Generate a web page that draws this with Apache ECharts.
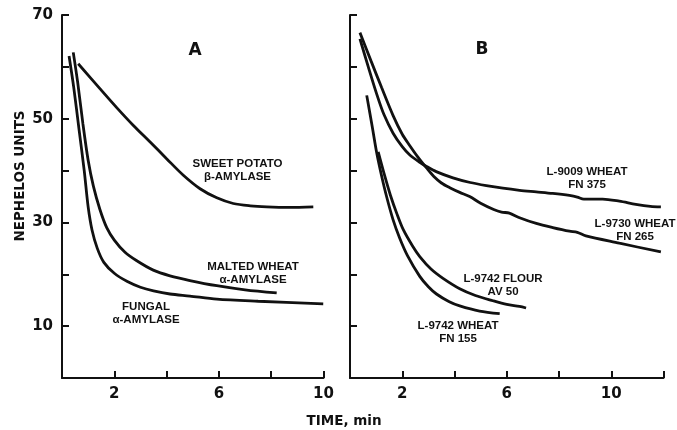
<!DOCTYPE html>
<html>
<head>
<meta charset="utf-8">
<script src="https://cdn.jsdelivr.net/npm/echarts@6/dist/echarts.min.js"></script>
<style>html,body{margin:0;padding:0;background:#fff}#c{width:677px;height:430px}</style>
</head>
<body>
<div id="c"></div>
<script>
// Panel A: [time (min), nephelos units]
const sweetPotato = [[0.62,60.6],[1.45,55.8],[2.1,52.1],[2.73,48.7],[3.37,45.5],[4.0,42.3],[4.64,39.1],[5.28,36.5],[5.92,34.75],[6.55,33.65],[7.2,33.2],[7.83,33.0],[8.7,32.9],[9.61,33.0]];
const maltedWheat = [[0.43,62.8],[0.6,57],[0.8,49],[1.0,42],[1.2,37],[1.45,32.5],[1.71,29],[2.0,26.6],[2.4,24.3],[2.86,22.6],[3.49,20.8],[4.13,19.7],[4.89,18.8],[5.92,17.8],[7.0,17.0],[8.21,16.4]];
const fungal = [[0.27,62.1],[0.45,56],[0.65,48],[0.85,40],[1.0,33],[1.15,28.5],[1.35,25],[1.6,22.3],[2.0,20.2],[2.5,18.6],[3.0,17.5],[3.5,16.8],[4.13,16.2],[4.89,15.8],[5.92,15.2],[7.5,14.8],[9.99,14.3]];
// Panel B
const l9009 = [[0.38,65.4],[0.7,60.0],[1.02,54.8],[1.3,50.8],[1.65,47.2],[2.0,44.6],[2.29,43.0],[2.67,41.6],[2.93,40.8],[3.3,39.8],[3.94,38.6],[4.6,37.7],[5.22,37.1],[5.85,36.6],[6.49,36.2],[7.13,35.9],[7.76,35.6],[8.4,35.2],[8.7,34.9],[8.95,34.5],[9.67,34.5],[10.31,34.1],[10.94,33.5],[11.5,33.1],[11.9,33.0]];
const l9730 = [[0.38,66.6],[0.8,61.2],[1.21,56.0],[1.65,50.6],[2.0,47.0],[2.29,44.8],[2.6,42.6],[2.93,40.5],[3.2,38.9],[3.5,37.6],[3.82,36.7],[4.2,35.8],[4.58,35.0],[5.0,33.7],[5.5,32.5],[5.8,32.0],[6.1,31.8],[6.49,30.9],[7.13,29.8],[7.76,29.0],[8.4,28.3],[8.7,28.1],[9.03,27.4],[10.31,26.0],[11.9,24.3]];
const l9742Flour = [[1.08,43.6],[1.3,39.5],[1.55,35.2],[1.8,31.6],[2.04,28.6],[2.4,25.4],[2.67,23.4],[3.1,21.0],[3.56,19.2],[4.2,17.2],[4.8,15.9],[5.47,14.9],[6.0,14.2],[6.49,13.8],[6.74,13.5]];
const l9742Wheat = [[0.64,54.5],[0.85,48.5],[1.02,43.5],[1.2,39.2],[1.4,35.0],[1.65,30.5],[1.9,27.0],[2.2,23.6],[2.67,19.6],[3.0,17.6],[3.31,16.2],[3.8,14.7],[4.2,13.9],[4.96,12.9],[5.73,12.4]];
const yTicks = [10, 30, 50, 70];
const xTicks = [2, 6, 10];

const chart = echarts.init(document.getElementById('c'), null, {renderer: 'canvas'});
const INK = '#111';
const tickFont = {fontFamily: 'DejaVu Sans', fontWeight: 'bold', fontSize: 15, color: INK};
const annFont = {fontFamily: 'Liberation Sans, Arial', fontWeight: 'bold', fontSize: 11.5, fill: INK};

function xAxis(idx, max) {
  return {
    type: 'value', gridIndex: idx, min: 0, max: max, interval: 2,
    axisLine: {lineStyle: {color: INK, width: 2}},
    axisTick: {inside: true, length: 7, lineStyle: {color: INK, width: 2}},
    splitLine: {show: false},
    axisLabel: Object.assign({margin: 9, formatter: v => xTicks.includes(v) ? String(v) : ''}, tickFont)
  };
}
function yAxis(idx, showLabels) {
  return {
    type: 'value', gridIndex: idx, min: 0, max: 70, interval: 10,
    axisLine: {show: true, lineStyle: {color: INK, width: 2}},
    axisTick: {show: true, inside: true, length: 7, lineStyle: {color: INK, width: 2}},
    splitLine: {show: false},
    axisLabel: Object.assign({show: showLabels, margin: 9, formatter: v => yTicks.includes(v) ? String(v) : ''}, tickFont)
  };
}
function line(data, idx, smooth) {
  return {
    type: 'line', xAxisIndex: idx, yAxisIndex: idx, data: data,
    showSymbol: false, smooth: smooth, animation: false,
    lineStyle: {color: INK, width: 2.8}
  };
}
function txt(x, y, text, font) {
  return {type: 'text', x: x, y: y, style: Object.assign({text: text, textAlign: 'center', textVerticalAlign: 'middle', lineHeight: 13}, font || annFont)};
}

chart.setOption({
  animation: false,
  grid: [
    {left: 62, top: 15, width: 261.5, height: 363},
    {left: 350, top: 15, width: 313.5, height: 363}
  ],
  xAxis: [xAxis(0, 10), xAxis(1, 12)],
  yAxis: [yAxis(0, true), yAxis(1, false)],
  series: [
    line(sweetPotato, 0, 0.3),
    line(maltedWheat, 0, 0.3),
    line(fungal, 0, 0.3),
    line(l9009, 1, 0.3),
    line(l9730, 1, 0.3),
    line(l9742Flour, 1, 0.3),
    line(l9742Wheat, 1, 0.3)
  ],
  graphic: [
    {type: 'text', x: 20, y: 176, rotation: Math.PI / 2,
     style: {text: 'NEPHELOS UNITS', textAlign: 'center', textVerticalAlign: 'middle', fontFamily: 'DejaVu Sans', fontWeight: 'bold', fontSize: 13.5, fill: INK}},
    txt(344, 421, 'TIME, min', {fontFamily: 'DejaVu Sans', fontWeight: 'bold', fontSize: 13.5, fill: INK}),
    txt(195, 51, 'A', {fontFamily: 'DejaVu Sans', fontWeight: 'bold', fontSize: 17, fill: INK}),
    txt(482, 50, 'B', {fontFamily: 'DejaVu Sans', fontWeight: 'bold', fontSize: 17, fill: INK}),
    txt(237.5, 170, 'SWEET POTATO\nβ-AMYLASE'),
    txt(253, 273, 'MALTED WHEAT\nα-AMYLASE'),
    txt(146, 313, 'FUNGAL\nα-AMYLASE'),
    txt(587, 178, 'L-9009 WHEAT\nFN 375'),
    txt(635, 230.5, 'L-9730 WHEAT\nFN 265'),
    txt(503, 285, 'L-9742 FLOUR\nAV 50'),
    txt(458, 332, 'L-9742 WHEAT\nFN 155')
  ]
});
</script>
</body>
</html>
